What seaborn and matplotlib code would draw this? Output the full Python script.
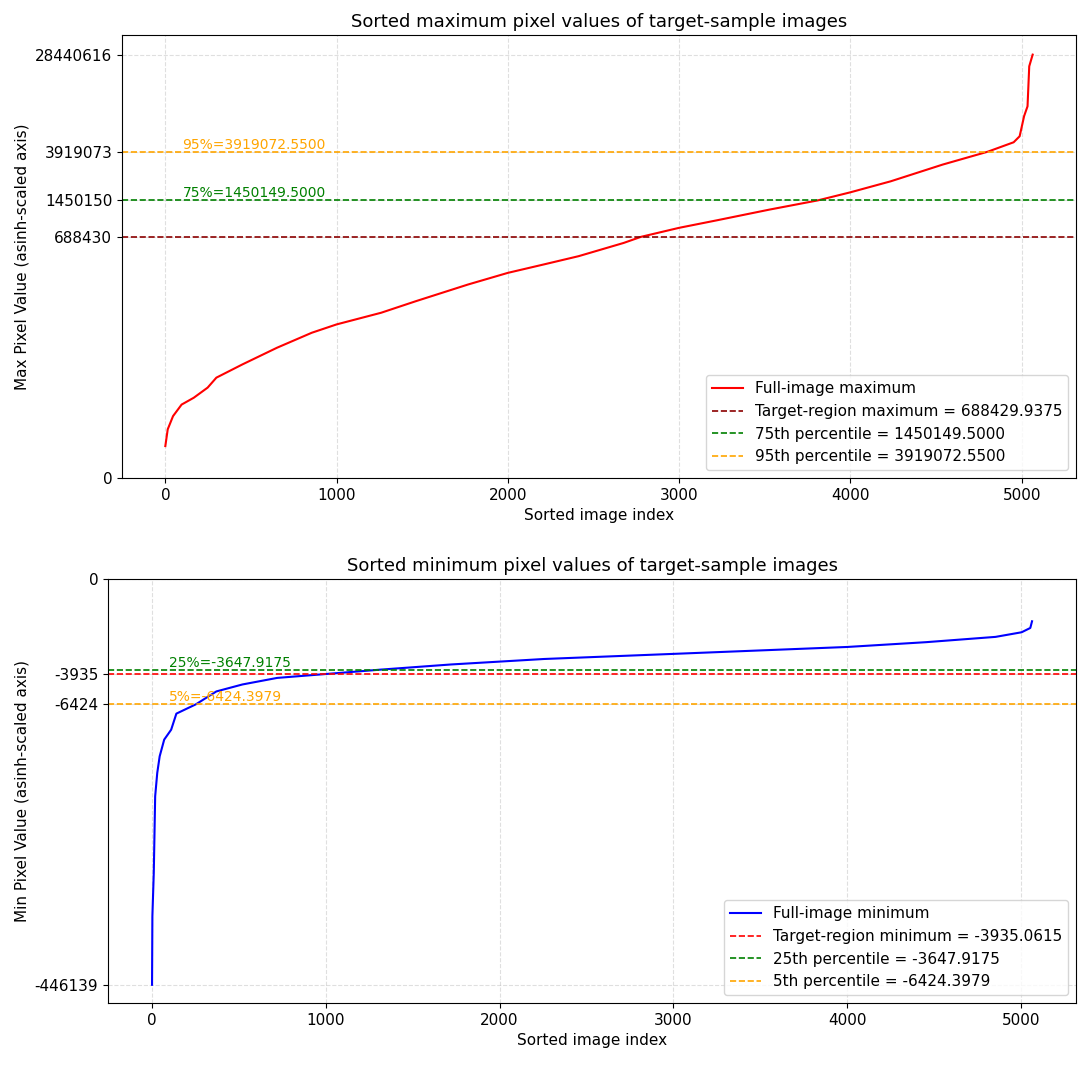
import numpy as np
import pandas as pd
import matplotlib
matplotlib.use("Agg")
import matplotlib.pyplot as plt
import seaborn as sns

# Sorted maximum pixel values
max_idx = [0, 14, 45, 95, 166, 247, 298, 450, 652, 855, 1000, 1260, 1463, 1767,
           2000, 2210, 2413, 2676, 2777, 3000, 3223, 3526, 3810, 4000, 4235,
           4538, 4802, 4953, 4988, 5014, 5034, 5044, 5064]
max_vals = [7000, 11680, 16300, 21300, 24800, 30900, 38200, 50400, 71200, 96900,
            115000, 146000, 185000, 260000, 330000, 392000, 464000, 608000,
            688430, 828000, 967000, 1200000, 1450150, 1710000, 2140000,
            3010000, 3919073, 4750000, 5370000, 8100000, 9900000, 22400000,
            28440616]

# Sorted minimum pixel values
min_idx = [0, 2, 10, 18, 30, 44, 70, 110, 140, 253, 370, 520, 720, 1000, 1320,
           1720, 2256, 3000, 4000, 4454, 4854, 5004, 5054, 5064]
min_vals = [-446139, -159000, -83000, -26200, -18400, -14300, -11100, -9540,
            -7440, -6424, -5240, -4680, -4200, -3935, -3648, -3340, -3030,
            -2760, -2420, -2200, -1970, -1780, -1610, -1360]

target_max = 688429.9375
p75_max = 1450149.5000
p95_max = 3919072.5500

target_min = -3935.0615
p25_min = -3647.9175
p5_min = -6424.3979

df_max = pd.DataFrame({"index": max_idx, "value": max_vals})
df_min = pd.DataFrame({"index": min_idx, "value": min_vals})

plt.rcParams["font.family"] = ["DejaVu Sans"]

fig = plt.figure(figsize=(10.88, 10.85), dpi=100)
ax1 = fig.add_axes([0.1121, 0.5594, 0.8769, 0.4083])
ax2 = fig.add_axes([0.0993, 0.0756, 0.8897, 0.3908])

# ---- top panel: maxima ----
ax1.set_yscale("asinh", linear_width=1e4)
sns.lineplot(data=df_max, x="index", y="value", color="red", linewidth=1.5,
             label="Full-image maximum", ax=ax1)
ax1.axhline(target_max, color="darkred", linestyle="--", linewidth=1.2,
            label=f"Target-region maximum = {target_max:.4f}")
ax1.axhline(p75_max, color="green", linestyle="--", linewidth=1.2,
            label=f"75th percentile = {p75_max:.4f}")
ax1.axhline(p95_max, color="orange", linestyle="--", linewidth=1.2,
            label=f"95th percentile = {p95_max:.4f}")
ax1.text(100, p75_max, f"75%={p75_max:.4f}", color="green", fontsize=10,
         va="bottom")
ax1.text(100, p95_max, f"95%={p95_max:.4f}", color="orange", fontsize=10,
         va="bottom")
ax1.set_ylim(bottom=0)
ticks1 = [0, target_max, p75_max, p95_max, max(max_vals)]
ax1.set_yticks(ticks1)
ax1.set_yticklabels([f"{t:.0f}" for t in ticks1])
ax1.yaxis.set_minor_locator(plt.NullLocator())
ax1.set_title("Sorted maximum pixel values of target-sample images", fontsize=13)
ax1.set_xlabel("Sorted image index", fontsize=11)
ax1.set_ylabel("Max Pixel Value (asinh-scaled axis)", fontsize=11)
ax1.grid(True, linestyle="--", alpha=0.4)
ax1.tick_params(labelsize=11)
ax1.legend(loc="lower right", fontsize=11)

# ---- bottom panel: minima ----
ax2.set_yscale("asinh", linear_width=2000)
sns.lineplot(data=df_min, x="index", y="value", color="blue", linewidth=1.5,
             label="Full-image minimum", ax=ax2)
ax2.axhline(target_min, color="red", linestyle="--", linewidth=1.2,
            label=f"Target-region minimum = {target_min:.4f}")
ax2.axhline(p25_min, color="green", linestyle="--", linewidth=1.2,
            label=f"25th percentile = {p25_min:.4f}")
ax2.axhline(p5_min, color="orange", linestyle="--", linewidth=1.2,
            label=f"5th percentile = {p5_min:.4f}")
ax2.text(100, p25_min, f"25%={p25_min:.4f}", color="green", fontsize=10,
         va="bottom")
ax2.text(100, p5_min, f"5%={p5_min:.4f}", color="orange", fontsize=10,
         va="bottom")
ax2.set_ylim(top=0)
ticks2 = [min(min_vals), p5_min, target_min, 0]
ax2.set_yticks(ticks2)
ax2.set_yticklabels([f"{t:.0f}" for t in ticks2])
ax2.yaxis.set_minor_locator(plt.NullLocator())
ax2.set_title("Sorted minimum pixel values of target-sample images", fontsize=13)
ax2.set_xlabel("Sorted image index", fontsize=11)
ax2.set_ylabel("Min Pixel Value (asinh-scaled axis)", fontsize=11)
ax2.grid(True, linestyle="--", alpha=0.4)
ax2.tick_params(labelsize=11)
ax2.legend(loc="lower right", fontsize=11)

fig.savefig("out.png", dpi=100)
